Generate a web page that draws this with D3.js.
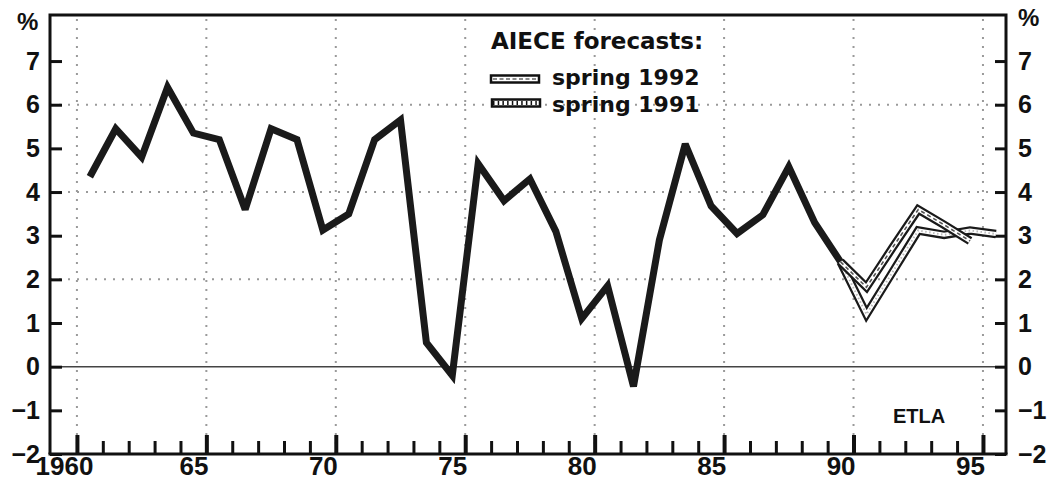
<!DOCTYPE html>
<html>
<head>
<meta charset="utf-8">
<script src="https://cdn.jsdelivr.net/npm/d3@7"></script>
<style>
  html, body { margin: 0; padding: 0; background: #fff; }
  svg { display: block; }
</style>
</head>
<body>
<svg id="chart" width="1058" height="490"></svg>
<script>
// ---- data ----
const actualYears = [1961,1962,1963,1964,1965,1966,1967,1968,1969,1970,
                     1971,1972,1973,1974,1975,1976,1977,1978,1979,1980,
                     1981,1982,1983,1984,1985,1986,1987,1988,1989,1990];
const actualValues = [4.35,5.45,4.8,6.4,5.35,5.2,3.6,5.45,5.2,3.13,
                      3.5,5.2,5.65,0.55,-0.2,4.65,3.8,4.3,3.1,1.1,
                      1.85,-0.45,2.9,5.1,3.68,3.05,3.48,4.58,3.3,2.4];
const spring1992Years = [1990,1991,1992,1993,1994,1995];
const spring1992Values = [2.4,1.82,2.72,3.6,3.25,2.88];
const spring1991Years = [1990,1991,1992,1993,1994,1995,1996];
const spring1991Values = [2.4,1.2,2.16,3.12,3.02,3.12,3.04];
const xTickLabels = ["1960","65","70","75","80","85","90","95"];
const xLabelYears = [1960,1965,1970,1975,1980,1985,1990,1995];
const yTicks = [-2,-1,0,1,2,3,4,5,6,7];
const yGrid = [2,4,6];
const legendTitle = "AIECE forecasts:";
const legendLabels = ["spring 1992","spring 1991"];

// ---- layout ----
const SANS = "'Liberation Sans', Arial, Helvetica, sans-serif";
const WIDE = "'DejaVu Sans', Verdana, sans-serif";
const svg = d3.select("#chart");
const L = 50, R = 1006, T = 15, B = 454;
const x = d3.scaleLinear().domain([1959.46, 1996.39]).range([L, R]); // year centres
const y = d3.scaleLinear().domain([-2, 8]).range([B, 17.4]);

const boundaries = d3.range(1960, 1996).map(v => v + 0.5);
const majorB = boundaries.filter(b => (b - 0.5) % 5 === 0);
const minorB = boundaries.filter(b => (b - 0.5) % 5 !== 0);

// grid
const grid = svg.append("g").attr("stroke", "#9a9a9a").attr("stroke-width", 2)
  .attr("stroke-dasharray", "2,7").attr("fill", "none");
grid.selectAll("line.v").data(majorB).join("line").attr("class","v")
  .attr("x1", d => x(d)).attr("x2", d => x(d)).attr("y1", T + 4).attr("y2", B);
grid.selectAll("line.h").data(yGrid).join("line").attr("class","h")
  .attr("x1", L).attr("x2", R).attr("y1", d => y(d)).attr("y2", d => y(d));

// zero line
svg.append("line").attr("x1", L).attr("x2", R).attr("y1", y(0)).attr("y2", y(0))
  .attr("stroke", "#444").attr("stroke-width", 1.5);

// axes
const fmt = d => (d < 0 ? "\u2212" + Math.abs(d) : String(d));
function styleText(sel, size) {
  sel.style("font-family", SANS).style("font-weight", "bold").style("font-size", size + "px")
     .attr("fill", "#111");
}
function styleAxis(g, w) {
  g.select(".domain").remove();
  g.selectAll(".tick line").attr("stroke", "#111").attr("stroke-width", w);
  g.selectAll(".tick text").call(styleText, 25);
}
svg.append("g").attr("transform", `translate(${L},0)`)
  .call(d3.axisLeft(y).tickValues(yTicks).tickSize(-12).tickPadding(10).tickFormat(fmt))
  .call(g => styleAxis(g, 3));
svg.append("g").attr("transform", `translate(${R},0)`)
  .call(d3.axisRight(y).tickValues(yTicks).tickSize(-11).tickPadding(12).tickFormat(fmt))
  .call(g => styleAxis(g, 3));
svg.append("g").attr("transform", `translate(0,${B})`)
  .call(d3.axisBottom(x).tickValues(minorB).tickSize(-13).tickFormat(""))
  .call(g => styleAxis(g, 3));
svg.append("g").attr("transform", `translate(0,${B})`)
  .call(d3.axisBottom(x).tickValues(majorB).tickSize(-19).tickFormat(""))
  .call(g => styleAxis(g, 4));
svg.append("g").attr("transform", `translate(0,${B})`)
  .call(d3.axisBottom(x).tickValues(xLabelYears).tickSize(0).tickPadding(3)
        .tickFormat((d, i) => xTickLabels[i]))
  .call(g => { g.select(".domain").remove(); g.selectAll("text").call(styleText, 26); });

// frame
const frame = svg.append("g").attr("stroke", "#111").attr("stroke-width", 3).attr("fill", "none");
frame.append("path").attr("d", `M${L},${B}V${T}H${R}V${B}`);
frame.append("line").attr("x1", L - 1.5).attr("x2", R + 1.5).attr("y1", B).attr("y2", B);

// % labels
svg.append("text").attr("x", 17).attr("y", 30).text("%").call(styleText, 24);
svg.append("text").attr("x", 1018).attr("y", 26).text("%").call(styleText, 24);

// actual line
const line = d3.line().x(d => x(d[0])).y(d => y(d[1]));
const actual = actualYears.map((yr, i) => [yr, actualValues[i]]);
svg.append("path").attr("d", line(actual)).attr("fill", "none")
  .attr("stroke", "#1a1a1a").attr("stroke-width", 7)
  .attr("stroke-linejoin", "miter").attr("stroke-miterlimit", 3);

// forecast tubes
function tube(years, values, dash, dashColor, dashWidth) {
  const pts = years.map((yr, i) => [yr, values[i]]);
  const g = svg.append("g").attr("fill", "none").attr("stroke-linejoin", "miter").attr("stroke-miterlimit", 3);
  g.append("path").attr("d", line(pts)).attr("stroke", "#1a1a1a").attr("stroke-width", 8.5);
  g.append("path").attr("d", line(pts)).attr("stroke", "#fff").attr("stroke-width", 4);
  g.append("path").attr("d", line(pts)).attr("stroke", dashColor).attr("stroke-width", dashWidth)
    .attr("stroke-dasharray", dash);
}
tube(spring1991Years, spring1991Values, "1.5,2.5", "#bbb", 2);
tube(spring1992Years, spring1992Values, "4,3", "#555", 1.6);

// legend
svg.append("text").attr("x", 491).attr("y", 49)
  .style("font-family", WIDE).style("font-weight", "bold").style("font-size", "23px")
  .attr("fill", "#111").text(legendTitle);
const sw = svg.append("g");
// spring 1992 swatch
sw.append("rect").attr("x", 491).attr("y", 75.5).attr("width", 48).attr("height", 7)
  .attr("fill", "#fff").attr("stroke", "#111").attr("stroke-width", 2.5);
sw.append("line").attr("x1", 493).attr("x2", 537).attr("y1", 79).attr("y2", 79)
  .attr("stroke", "#666").attr("stroke-width", 1.6).attr("stroke-dasharray", "4,2.5");
// spring 1991 swatch
sw.append("rect").attr("x", 492).attr("y", 99.5).attr("width", 48).attr("height", 7)
  .attr("fill", "#fff").attr("stroke", "#111").attr("stroke-width", 2.5);
sw.append("line").attr("x1", 493).attr("x2", 539).attr("y1", 103).attr("y2", 103)
  .attr("stroke", "#111").attr("stroke-width", 4).attr("stroke-dasharray", "1.5,3.2");
svg.selectAll("text.leg").data(legendLabels).join("text").attr("class", "leg")
  .attr("x", 552).attr("y", (d, i) => i === 0 ? 85 : 112)
  .style("font-family", WIDE).style("font-weight", "bold").style("font-size", "22px")
  .attr("fill", "#111").text(d => d);

// source
svg.append("text").attr("x", 893).attr("y", 423).text("ETLA").call(styleText, 20);
</script>
</body>
</html>
